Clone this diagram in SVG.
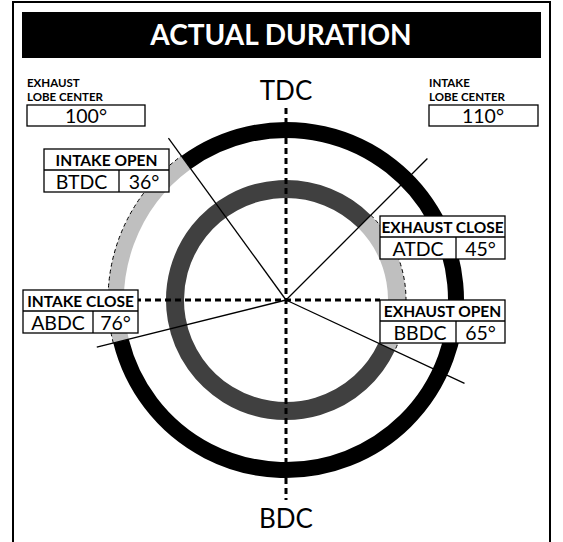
<svg xmlns="http://www.w3.org/2000/svg" width="563" height="542" viewBox="0 0 563 542">
<style>
.f{font-family:Lato,"Open Sans","Liberation Sans",sans-serif;fill:#000}
.h{font-weight:bold;font-size:15.5px;text-anchor:middle}
.v{font-size:19.5px;text-anchor:middle}
.s{font-weight:bold;font-size:11.5px}
.box{fill:#fff;stroke:#000;stroke-width:1.3}
.ring{fill:none}
.dash{fill:none;stroke:#000;stroke-width:3;stroke-dasharray:6 4}
.thin{fill:none;stroke:#000;stroke-width:1.3}
.edge{fill:none;stroke:#000;stroke-width:1;stroke-dasharray:4 3}
</style>
<rect x="0" y="0" width="563" height="542" fill="#fff"/>
<rect x="13" y="2" width="537" height="570" fill="none" stroke="#000" stroke-width="2"/>
<g id="title">
<rect x="22" y="12" width="519" height="46" fill="#000"/>
<text x="281" y="45" class="f" style="fill:#fff;font-weight:bold;font-size:28px;text-anchor:middle">ACTUAL DURATION</text>
</g>
<g id="exhaust-lobe-center">
<text x="27" y="86.5" class="f s">EXHAUST</text>
<text x="27" y="101" class="f s">LOBE CENTER</text>
<rect x="27" y="105" width="118" height="21" class="box"/>
<text x="86" y="123" class="f v">100°</text>
</g>
<g id="intake-lobe-center">
<text x="429" y="86.5" class="f s">INTAKE</text>
<text x="429" y="101" class="f s">LOBE CENTER</text>
<rect x="429" y="105" width="109" height="21" class="box"/>
<text x="483" y="123" class="f v">110°</text>
</g>
<g id="tdc"><text x="286" y="100" class="f" style="font-size:26px;text-anchor:middle">TDC</text></g>
<g id="bdc"><text x="286" y="528" class="f" style="font-size:26px;text-anchor:middle">BDC</text></g>
<g id="intake-ring">
<path d="M186.07,162.47 A170,170 0 1 1 121.05,341.13" class="ring" stroke="#000" stroke-width="16"/>
<path d="M121.05,341.13 A170,170 0 0 1 186.07,162.47" class="ring" stroke="#bfbfbf" stroke-width="16"/>
<path d="M113.29,343.06 A178,178 0 0 1 181.37,155.99" class="edge"/>
</g>
<g id="exhaust-ring">
<path d="M386.60,346.91 A111,111 0 1 1 364.49,221.51" class="ring" stroke="#404040" stroke-width="18"/>
<path d="M364.49,221.51 A111,111 0 0 1 386.60,346.91" class="ring" stroke="#bfbfbf" stroke-width="18"/>
<path d="M370.85,215.15 A120,120 0 0 1 394.76,350.71" class="edge"/>
</g>
<g id="connectors">
<line x1="286" y1="108" x2="286" y2="500" class="dash"/>
<line x1="95" y1="300" x2="380" y2="300" class="dash"/>
<line x1="286" y1="300" x2="168.44" y2="138.2" class="thin"/>
<line x1="286" y1="300" x2="427.42" y2="158.58" class="thin"/>
<line x1="286" y1="300" x2="96.8" y2="347.2" class="thin"/>
<line x1="286" y1="300" x2="464.5" y2="383.3" class="thin"/>
</g>
<g id="intake-open">
<rect x="44" y="149" width="125" height="43" class="box"/>
<line x1="44" y1="170" x2="169" y2="170" class="thin"/>
<line x1="119" y1="170" x2="119" y2="192" class="thin"/>
<text x="106.5" y="166" class="f h">INTAKE OPEN</text>
<text x="81.5" y="189" class="f v">BTDC</text>
<text x="144" y="189" class="f v">36°</text>
</g>
<g id="exhaust-close">
<rect x="380" y="216" width="125" height="43" class="box"/>
<line x1="380" y1="237" x2="505" y2="237" class="thin"/>
<line x1="456" y1="237" x2="456" y2="259" class="thin"/>
<text x="442.5" y="233" class="f h">EXHAUST CLOSE</text>
<text x="418" y="256" class="f v">ATDC</text>
<text x="480.5" y="256" class="f v">45°</text>
</g>
<g id="intake-close">
<rect x="23" y="290" width="115" height="43" class="box"/>
<line x1="23" y1="311" x2="138" y2="311" class="thin"/>
<line x1="93" y1="311" x2="93" y2="333" class="thin"/>
<text x="80.5" y="307" class="f h">INTAKE CLOSE</text>
<text x="58" y="330" class="f v">ABDC</text>
<text x="115.5" y="330" class="f v">76°</text>
</g>
<g id="exhaust-open">
<rect x="380" y="300" width="125" height="43" class="box"/>
<line x1="380" y1="321" x2="505" y2="321" class="thin"/>
<line x1="456" y1="321" x2="456" y2="343" class="thin"/>
<text x="442.5" y="317" class="f h">EXHAUST OPEN</text>
<text x="420" y="340" class="f v">BBDC</text>
<text x="480.5" y="340" class="f v">65°</text>
</g>
</svg>
